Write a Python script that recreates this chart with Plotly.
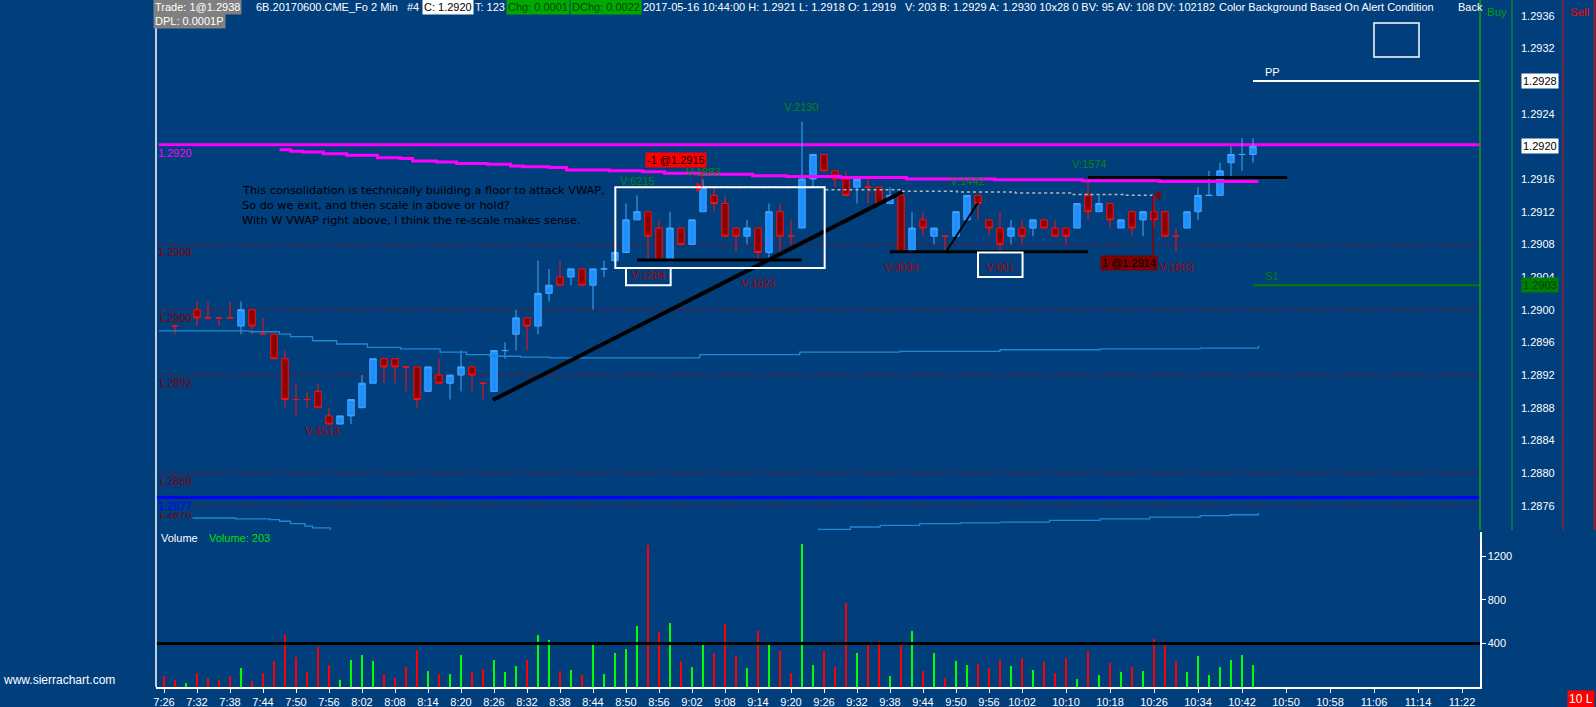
import plotly.graph_objects as go

# ---------------- data ----------------
session_start = "7:26"
bar_minutes = 2

opens = [1.2899, 1.2898, 1.2899, 1.2900, 1.2899, 1.2899, 1.2899, 1.2898, 1.2900, 1.2897,
         1.2897, 1.2894, 1.2889, 1.2889, 1.2890, 1.2887, 1.2886, 1.2887, 1.2888, 1.2891,
         1.2894, 1.2894, 1.2893, 1.2893, 1.2890, 1.2892, 1.2891, 1.2892, 1.2893, 1.2891,
         1.2890, 1.2895, 1.2897, 1.2899, 1.2898, 1.2902, 1.2904, 1.2904, 1.2905, 1.2903,
         1.2905, 1.2906, 1.2907, 1.2911, 1.2912, 1.2910, 1.2906, 1.2910, 1.2908, 1.2912,
         1.2914, 1.2913, 1.2910, 1.2909, 1.2910, 1.2907, 1.2912, 1.2909, 1.2910, 1.2916,
         1.2919, 1.2917, 1.2916, 1.2915, 1.2915, 1.2915, 1.2913, 1.2914, 1.2907, 1.2911,
         1.2909, 1.2909, 1.2909, 1.2911, 1.2914, 1.2911, 1.2910, 1.2909, 1.2910, 1.2910,
         1.2911, 1.2910, 1.2910, 1.2910, 1.2914, 1.2912, 1.2913, 1.2910, 1.2912, 1.2911,
         1.2912, 1.2912, 1.2909, 1.2910, 1.2912, 1.2914, 1.2914, 1.2918, 1.2919, 1.2919]
highs = [1.2900, 1.2898, 1.2899, 1.2901, 1.2901, 1.2899, 1.2901, 1.2901, 1.2900, 1.2899,
         1.2897, 1.2895, 1.2891, 1.2890, 1.2891, 1.2888, 1.2887, 1.2889, 1.2892, 1.2894,
         1.2894, 1.2894, 1.2893, 1.2893, 1.2893, 1.2894, 1.2892, 1.2895, 1.2893, 1.2891,
         1.2895, 1.2896, 1.2900, 1.2899, 1.2906, 1.2905, 1.2906, 1.2905, 1.2905, 1.2905,
         1.2906, 1.2907, 1.2913, 1.2914, 1.2912, 1.2911, 1.2912, 1.2910, 1.2911, 1.2916,
         1.2915, 1.2914, 1.2910, 1.2911, 1.2910, 1.2913, 1.2913, 1.2911, 1.2923, 1.2919,
         1.2919, 1.2917, 1.2917, 1.2916, 1.2916, 1.2915, 1.2915, 1.2914, 1.2912, 1.2912,
         1.2910, 1.2909, 1.2912, 1.2914, 1.2914, 1.2911, 1.2912, 1.2911, 1.2911, 1.2911,
         1.2911, 1.2911, 1.2910, 1.2913, 1.2916, 1.2914, 1.2913, 1.2911, 1.2912, 1.2912,
         1.2914, 1.2912, 1.2910, 1.2912, 1.2915, 1.2917, 1.2918, 1.2920, 1.2921, 1.2921]
lows = [1.2899, 1.2897, 1.2899, 1.2898, 1.2899, 1.2898, 1.2899, 1.2897, 1.2897, 1.2897,
        1.2894, 1.2888, 1.2887, 1.2888, 1.2888, 1.2886, 1.2886, 1.2886, 1.2888, 1.2891,
        1.2891, 1.2891, 1.2890, 1.2888, 1.2890, 1.2891, 1.2889, 1.2890, 1.2890, 1.2889,
        1.2890, 1.2894, 1.2895, 1.2895, 1.2897, 1.2901, 1.2903, 1.2903, 1.2903, 1.2900,
        1.2904, 1.2906, 1.2907, 1.2911, 1.2906, 1.2906, 1.2906, 1.2908, 1.2908, 1.2912,
        1.2912, 1.2909, 1.2907, 1.2908, 1.2906, 1.2906, 1.2907, 1.2908, 1.2910, 1.2915,
        1.2917, 1.2915, 1.2914, 1.2913, 1.2913, 1.2913, 1.2913, 1.2907, 1.2907, 1.2909,
        1.2908, 1.2907, 1.2909, 1.2911, 1.2911, 1.2909, 1.2907, 1.2908, 1.2908, 1.2909,
        1.2910, 1.2909, 1.2908, 1.2910, 1.2911, 1.2912, 1.2910, 1.2910, 1.2909, 1.2909,
        1.2910, 1.2909, 1.2907, 1.2910, 1.2911, 1.2914, 1.2914, 1.2916, 1.2917, 1.2918]
closes = [1.2899, 1.2898, 1.2899, 1.2899, 1.2899, 1.2899, 1.2899, 1.2900, 1.2898, 1.2897,
          1.2894, 1.2889, 1.2889, 1.2889, 1.2888, 1.2886, 1.2887, 1.2889, 1.2891, 1.2894,
          1.2893, 1.2893, 1.2893, 1.2889, 1.2893, 1.2891, 1.2892, 1.2893, 1.2892, 1.2891,
          1.2895, 1.2895, 1.2899, 1.2898, 1.2902, 1.2903, 1.2903, 1.2905, 1.2903, 1.2905,
          1.2905, 1.2907, 1.2911, 1.2912, 1.2909, 1.2906, 1.2910, 1.2908, 1.2911, 1.2915,
          1.2913, 1.2909, 1.2909, 1.2910, 1.2907, 1.2912, 1.2909, 1.2909, 1.2916, 1.2919,
          1.2917, 1.2916, 1.2914, 1.2916, 1.2915, 1.2913, 1.2914, 1.2907, 1.2910, 1.2910,
          1.2910, 1.2909, 1.2912, 1.2914, 1.2913, 1.2910, 1.2908, 1.2910, 1.2909, 1.2911,
          1.2910, 1.2909, 1.2909, 1.2913, 1.2912, 1.2913, 1.2911, 1.2911, 1.2910, 1.2912,
          1.2911, 1.2909, 1.2909, 1.2912, 1.2914, 1.2914, 1.2917, 1.2919, 1.2919, 1.2920]
volumes = [99, 62, 34, 127, 84, 62, 99, 174, 53, 127,
           239, 480, 276, 136, 369, 202, 62, 248, 295, 239,
           118, 81, 183, 341, 146, 118, 118, 295, 136, 164,
           248, 136, 192, 248, 480, 434, 146, 155, 109, 415,
           118, 313, 350, 564, 1308, 508, 592, 239, 183, 388,
           313, 583, 285, 174, 518, 388, 332, 127, 1318, 202,
           332, 183, 769, 313, 388, 425, 99, 388, 518, 146,
           313, 81, 240, 203, 213, 176, 249, 194, 268, 157,
           231, 129, 268, 74, 333, 111, 222, 139, 185, 148,
           444, 388, 240, 139, 286, 111, 185, 249, 296, 203]

# stepped session VWAP (magenta) and its bands (bar position, price)
vwap_x = [10.5, 11.5, 12.6, 14.5, 16.6, 19.4, 21.5, 22.6, 24.8, 26.6, 29.4, 31.5, 32.6, 35.0,
          36.6, 40.5, 43.5, 45.5, 48.7, 53.5, 56.6, 61.5, 67.5, 75.5, 83.5, 90.5, 99.5]
vwap_y = [1.29196, 1.29194, 1.29193, 1.29191, 1.29189, 1.29186, 1.29185, 1.29182, 1.29181,
          1.29179, 1.29178, 1.29176, 1.29175, 1.29174, 1.29171, 1.29170, 1.29169, 1.29167,
          1.29166, 1.29164, 1.29163, 1.29162, 1.29160, 1.29159, 1.29158, 1.29157, 1.29157]
band_x = [-0.45, 7.8, 10.5, 11.5, 13.5, 15.7, 18.5, 21.5, 25.1, 27.5, 29.6, 32.4, 35.1,
          48.7, 57.8, 66.9, 76.0, 85.1, 94.2, 99.5]
band_y = [1.28974, 1.28973, 1.28970, 1.28967, 1.28962, 1.28958, 1.28954, 1.28952, 1.28948,
          1.28945, 1.28943, 1.28942, 1.28941, 1.28945, 1.28948, 1.28949, 1.28951, 1.28952,
          1.28953, 1.28956]
lowband_x = [-0.45, 2.4, 6.5, 9.6, 10.5, 11.5, 12.8, 13.5, 15.1, None, 56.9, 59.5, 62.4, 65.1,
             68.7, 72.4, 76.0, 80.5, 85.1, 89.6, 94.2, 96.9, 99.5]
lowband_y = [1.28745, 1.28745, 1.28744, 1.28743, 1.28741, 1.28738, 1.28735, 1.28733, 1.28729,
             None, 1.28729, 1.28731, 1.28734, 1.28736, 1.28738, 1.28739, 1.28740, 1.28742,
             1.28744, 1.28746, 1.28748, 1.28749, 1.28751]
position_x = [48.9, 60.1, 66.9, 72.1, 77.4, 82.4, 87.5, 89.9]
position_y = [1.29150, 1.29147, 1.29145, 1.29144, 1.29143, 1.29141, 1.29140, 1.29140]

tick_labels = ["7:26", "7:32", "7:38", "7:44", "7:50", "7:56", "8:02", "8:08", "8:14", "8:20",
               "8:26", "8:32", "8:38", "8:44", "8:50", "8:56", "9:02", "9:08", "9:14", "9:20",
               "9:26", "9:32", "9:38", "9:44", "9:50", "9:56", "10:02", "10:10", "10:18",
               "10:26", "10:34", "10:42", "10:50", "10:58", "11:06", "11:14", "11:22"]

ref_levels = [1.2908, 1.2900, 1.2892, 1.2880, 1.2876]
weekly_vwap = 1.29202
blue_level = 1.2877
pp_level = 1.2928
s1_level = 1.2903
volume_ref = 400

# ---------------- geometry ----------------
W, H = 1596, 707
ML, MR, MT, MB = 156, 116, 0, 20
PW, PH = W - ML - MR, H - MT - MB
BG = "#003E7C"
FONT = "Liberation Sans"


def px_x(xp):
    return (xp - ML) / PW


def px_y(yp):
    return 1 - (yp - MT) / PH


def t2i(s):
    h, m = map(int, s.split(":"))
    h0, m0 = map(int, session_start.split(":"))
    return ((h * 60 + m) - (h0 * 60 + m0)) / bar_minutes


n = len(opens)
xs = list(range(n))

# direction (ties resolved by previous close)
up = []
prev_dir = False
for i in range(n):
    if closes[i] > opens[i]:
        d = True
    elif closes[i] < opens[i]:
        d = False
    else:
        if i > 0 and closes[i] != closes[i - 1]:
            d = closes[i] > closes[i - 1]
        else:
            d = prev_dir
    up.append(d)
    prev_dir = d

fig = go.Figure()

UP_FILL, UP_LINE = "#1E8FFF", "#45A8FF"
DN_FILL, DN_LINE = "#8B0000", "#FF1010"


def cs(idx, fill, line, name):
    return go.Candlestick(
        x=[xs[i] for i in idx], open=[opens[i] for i in idx], high=[highs[i] for i in idx],
        low=[lows[i] for i in idx], close=[closes[i] for i in idx],
        increasing=dict(fillcolor=fill, line=dict(color=line, width=1)),
        decreasing=dict(fillcolor=fill, line=dict(color=line, width=1)),
        whiskerwidth=0, name=name, showlegend=False, hoverinfo="skip",
        xaxis="x", yaxis="y")


fig.add_trace(cs([i for i in range(n) if up[i]], UP_FILL, UP_LINE, "up"))
fig.add_trace(cs([i for i in range(n) if not up[i]], DN_FILL, DN_LINE, "down"))

# VWAP lines
fig.add_trace(go.Scatter(x=band_x, y=band_y, mode="lines", line=dict(color="#1E88D0", width=1.3, shape="hv"),
                         showlegend=False, hoverinfo="skip", xaxis="x", yaxis="y"))
fig.add_trace(go.Scatter(x=lowband_x, y=lowband_y, mode="lines", line=dict(color="#1E88D0", width=1.3, shape="hv"),
                         showlegend=False, hoverinfo="skip", xaxis="x", yaxis="y", connectgaps=False))
fig.add_trace(go.Scatter(x=vwap_x, y=vwap_y, mode="lines", line=dict(color="#FF00FF", width=3, shape="hv"),
                         showlegend=False, hoverinfo="skip", xaxis="x", yaxis="y"))
fig.add_trace(go.Scatter(x=position_x, y=position_y, mode="lines",
                         line=dict(color="#B8B8B8", width=1.5, dash="dot", shape="hv"),
                         showlegend=False, hoverinfo="skip", xaxis="x", yaxis="y"))

# trade markers
fig.add_trace(go.Scatter(x=[48.6], y=[1.2915], mode="markers",
                         marker=dict(symbol="triangle-right", size=9, color="#FF0000"),
                         showlegend=False, hoverinfo="skip", xaxis="x", yaxis="y"))
fig.add_trace(go.Scatter(x=[90.4], y=[1.2914], mode="markers",
                         marker=dict(symbol="triangle-left", size=9, color="#8B0000"),
                         showlegend=False, hoverinfo="skip", xaxis="x", yaxis="y"))

# volume
fig.add_trace(go.Bar(x=xs, y=volumes, width=0.27,
                     marker=dict(color=["#00FF00" if u else "#FF0000" for u in up], line=dict(width=0)),
                     showlegend=False, hoverinfo="skip", xaxis="x", yaxis="y2"))

# ---------------- shapes ----------------
shapes = []
for lv in ref_levels:
    shapes.append(dict(type="line", xref="paper", yref="y", x0=0, x1=1, y0=lv, y1=lv,
                       line=dict(color="#A00000", width=1, dash="dot"), layer="below"))
shapes.append(dict(type="line", xref="paper", yref="y", x0=0.002, x1=1, y0=weekly_vwap, y1=weekly_vwap,
                   line=dict(color="#FF00FF", width=3), layer="below"))
shapes.append(dict(type="line", xref="paper", yref="y", x0=0, x1=1, y0=blue_level, y1=blue_level,
                   line=dict(color="#0000FF", width=3), layer="below"))
XMAX = (1480 - 164) / 11
shapes.append(dict(type="line", xref="x", yref="y", x0=99, x1=XMAX, y0=pp_level, y1=pp_level,
                   line=dict(color="#FFFFFF", width=2)))
shapes.append(dict(type="line", xref="x", yref="y", x0=99, x1=XMAX, y0=s1_level, y1=s1_level,
                   line=dict(color="#007F00", width=2)))
# drawings
blk = "#000000"
shapes += [
    dict(type="line", xref="x", yref="y", x0=29.9, y0=1.288894, x1=67.1, y1=1.291441, line=dict(color=blk, width=4)),
    dict(type="line", xref="x", yref="y", x0=43, y0=1.29061, x1=58, y1=1.29061, line=dict(color=blk, width=3)),
    dict(type="line", xref="x", yref="y", x0=66, y0=1.29071, x1=84, y1=1.29071, line=dict(color=blk, width=3)),
    dict(type="line", xref="x", yref="y", x0=71.1, y0=1.29071, x1=74.0, y1=1.29131, line=dict(color=blk, width=2)),
    dict(type="line", xref="x", yref="y", x0=84, y0=1.29162, x1=102.1, y1=1.29162, line=dict(color=blk, width=3)),
    dict(type="rect", xref="x", yref="y", x0=41.03, x1=60.06, y0=1.29051, y1=1.29150, line=dict(color="#FFFFFF", width=2)),
    dict(type="rect", xref="x", yref="y", x0=42.0, x1=46.06, y0=1.29030, y1=1.29051, line=dict(color="#FFFFFF", width=2)),
    dict(type="rect", xref="x", yref="y", x0=74.0, x1=78.05, y0=1.29040, y1=1.29070, line=dict(color="#FFFFFF", width=2)),
    dict(type="line", xref="x", yref="y", x0=48.9, y0=1.29171, x1=48.9, y1=1.2915, line=dict(color="#FF0000", width=1)),
    dict(type="line", xref="x", yref="y", x0=89.9, y0=1.2914, x1=89.9, y1=1.29066, line=dict(color="#8B0000", width=1.5)),
    dict(type="rect", xref="paper", yref="paper", x0=px_x(1374), x1=px_x(1419), y0=px_y(57), y1=px_y(23),
         line=dict(color="#FFFFFF", width=1.5)),
]
shapes.append(dict(type="line", xref="paper", yref="y2", x0=0, x1=1, y0=volume_ref, y1=volume_ref,
                   line=dict(color=blk, width=3)))
# frame lines
pb = px_y(530)
shapes += [
    dict(type="line", xref="paper", yref="paper", x0=0, x1=0, y0=0, y1=1, line=dict(color="#FFFFFF", width=1.5)),
    dict(type="line", xref="paper", yref="paper", x0=1, x1=1, y0=pb, y1=1, line=dict(color="#1A9E1A", width=1.5)),
    dict(type="line", xref="paper", yref="paper", x0=px_x(1512), x1=px_x(1512), y0=pb, y1=1, line=dict(color="#1A9E1A", width=1)),
    dict(type="line", xref="paper", yref="paper", x0=px_x(1563), x1=px_x(1563), y0=pb, y1=1, line=dict(color="#E01010", width=1)),
    dict(type="line", xref="paper", yref="paper", x0=px_x(1594.5), x1=px_x(1594.5), y0=pb, y1=1, line=dict(color="#E01010", width=1.5)),
]

# ---------------- annotations ----------------
ann = []


def txt(text, xp, yp, color="#FFFFFF", size=11, bg=None, anchor="left", pad=1, family=FONT):
    a = dict(text=text, xref="paper", yref="paper", x=px_x(xp), y=px_y(yp), xanchor=anchor,
             yanchor="middle", showarrow=False, font=dict(family=family, size=size, color=color), borderpad=pad)
    if bg:
        a["bgcolor"] = bg
    ann.append(a)


def dtxt(text, xi, price, color, size=11, bg=None, anchor="center", yshift=0, xpaper=None, pad=1):
    a = dict(text=text, xref="x" if xpaper is None else "paper", yref="y",
             x=xi if xpaper is None else xpaper, y=price, xanchor=anchor, yanchor="middle",
             showarrow=False, yshift=yshift, font=dict(family=FONT, size=size, color=color), borderpad=pad)
    if bg:
        a["bgcolor"] = bg
    ann.append(a)


# header line
txt("Trade: 1@1.2938", 153, 7, bg="#808080")
txt("6B.20170600.CME_Fo", 254, 7)
txt("2 Min", 369, 7)
txt("#4", 405, 7)
txt("C: 1.2920", 422, 7, color="#000000", bg="#FFFFFF")
txt("T: 123", 473, 7)
txt("Chg: 0.0001", 506, 7, color="#004A00", bg="#00A800")
txt("DChg: 0.0022", 570, 7, color="#004A00", bg="#00A800")
txt("2017-05-16 10:44:00 H: 1.2921 L: 1.2918 O: 1.2919", 641, 7)
txt("V: 203 B: 1.2929 A: 1.2930 10x28 0 BV: 95 AV: 108 DV: 102182", 903, 7)
txt("Color Background Based On Alert Condition", 1216.5, 7)
txt("Back", 1455.5, 7)
txt("DPL: 0.0001P", 153, 21, bg="#808080")
txt("Buy", 1485, 11.5, color="#00A000", size=11.5)
txt("Sell", 1568, 11.5, color="#FF0000", size=11.5)

# left line labels
lbls = [("1.2876", "#800000", 1.2876), ("1.2920", "#FF00FF", weekly_vwap), ("1.2908", "#800000", 1.2908),
        ("1.2900", "#800000", 1.2900), ("1.2892", "#800000", 1.2892), ("1.2880", "#800000", 1.2880),
        ("1.2877", "#0000FF", blue_level)]
for t, c, p in lbls:
    dtxt(t, None, p, c, bg=BG, anchor="left", yshift=-8, xpaper=px_x(156.5), pad=0)

# right-side highlighted price labels
dtxt("1.2928", None, pp_level, "#000000", bg="#FFFFFF", anchor="left", xpaper=px_x(1520.5))
dtxt("1.2920", None, 1.2920, "#000000", bg="#FFFFFF", anchor="left", xpaper=px_x(1520.5))
dtxt("1.2903", None, s1_level, "#004400", bg="#007F00", anchor="left", xpaper=px_x(1520.5))
dtxt("PP", 99.9, pp_level, "#FFFFFF", anchor="left", yshift=9)
dtxt("S1", 99.9, s1_level, "#007F00", anchor="left", yshift=9)

# swing volume labels
red_l, grn_l = "#B00000", "#0A860A"
for t, xi, p, c in [("V:4513", 14.4, 1.288515, red_l), ("V:1284", 44.0, 1.290425, red_l),
                    ("V:6215", 43.0, 1.291576, grn_l), ("V:1883", 49.0, 1.291686, grn_l),
                    ("V:2130", 57.95, 1.292486, grn_l), ("V:1823", 54.0, 1.290327, red_l),
                    ("V:3034", 67.0, 1.290527, red_l), ("V:1442", 73.0, 1.291576, grn_l),
                    ("V:601", 76.0, 1.290527, red_l), ("V:1574", 84.05, 1.291784, grn_l),
                    ("V:1803", 92.0, 1.290527, red_l)]:
    dtxt(t, xi, p, c)

# trade labels
dtxt("-1 @1.2915", 46.5, 1.291827, "#000000", bg="#FF0000")
dtxt("1 @1.2914", 87.7, 1.290578, "#000000", bg="#7F0000")

# comment text
note = ["This consolidation is technically building a floor to attack VWAP,",
        "So do we exit, and then scale in above or hold?",
        "With W VWAP right above, I think the re-scale makes sense."]
for k, line in enumerate(note):
    txt(line, 239.5, 190.7 + k * 15, color="#000000", size=11.3, family="DejaVu Sans")

# volume pane labels & footer
txt("Volume", 159, 538)
txt("Volume: 203", 207, 538, color="#00E000")
txt("www.sierrachart.com", 1, 680, size=12)
txt("10 L", 1567, 699, color="#FFFFFF", size=12, bg="#FF0000")

fig.update_layout(
    width=W, height=H,
    margin=dict(l=ML, r=MR, t=MT, b=MB, autoexpand=False),
    paper_bgcolor=BG, plot_bgcolor=BG,
    font=dict(family=FONT, size=11, color="#FFFFFF"),
    showlegend=False, hovermode=False,
    boxgap=0.42, boxgroupgap=0,
    bargap=0,
    xaxis=dict(domain=[0, 1], anchor="y2", range=[(ML - 164) / 11, XMAX],
               tickvals=[t2i(t) for t in tick_labels], ticktext=tick_labels,
               ticks="outside", ticklen=4, tickcolor="#FFFFFF", showline=True, linecolor="#FFFFFF",
               linewidth=1.5, showgrid=False, zeroline=False, rangeslider=dict(visible=False),
               tickfont=dict(family=FONT, size=11, color="#FFFFFF")),
    yaxis=dict(domain=[px_y(530), 1], anchor="x", side="right", range=[1.287303, 1.293792],
               tick0=1.2876, dtick=0.0004, tickformat=".4f", ticks="", showgrid=False, zeroline=False,
               showline=False, ticklabelstandoff=40,
               tickfont=dict(family=FONT, size=11, color="#FFFFFF")),
    yaxis2=dict(domain=[0, px_y(532)], anchor="x", side="right", range=[0, 1425],
                tickvals=[400, 800, 1200], ticks="outside", ticklen=4, tickcolor="#FFFFFF",
                showline=True, linecolor="#FFFFFF", linewidth=1.5, showgrid=False, zeroline=False,
                tickfont=dict(family=FONT, size=11, color="#FFFFFF")),
    shapes=shapes, annotations=ann,
)

fig.write_html(
    "out.html",
    config={"displayModeBar": False, "staticPlot": True},
    post_script="document.body.style.margin='0px';document.body.style.padding='0px';"
                "document.body.style.overflow='hidden';document.body.style.background='" + BG + "';",
)
